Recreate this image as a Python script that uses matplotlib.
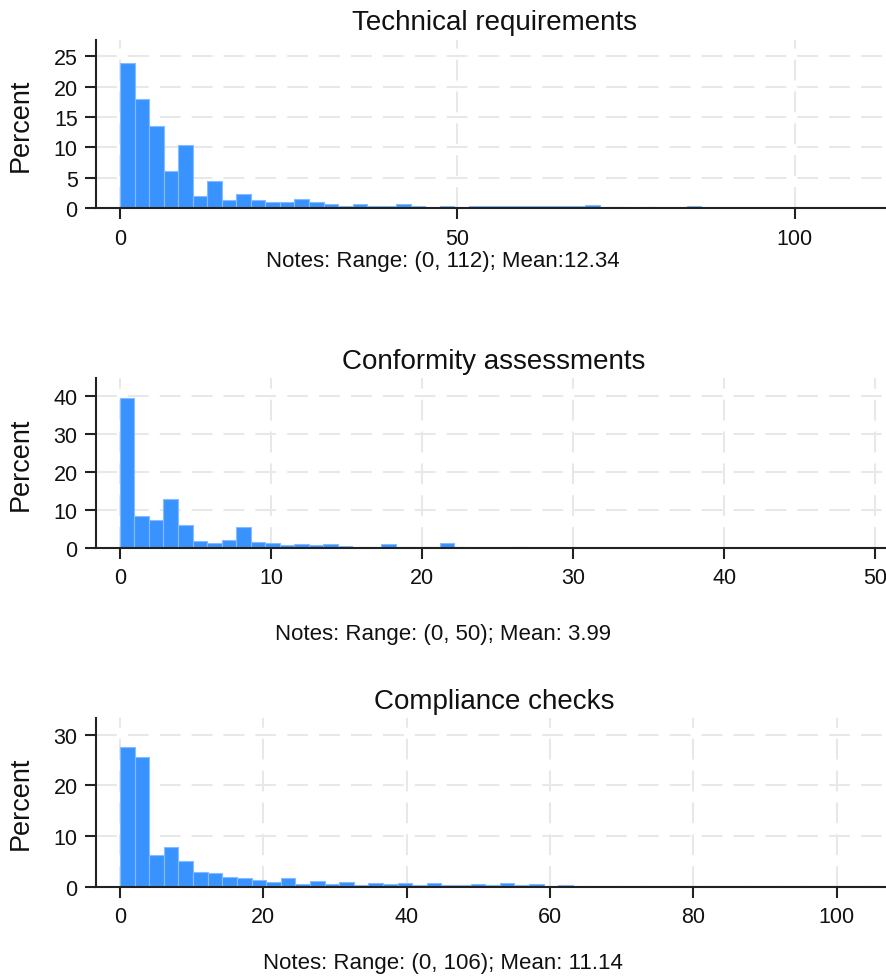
import numpy as np
import matplotlib
matplotlib.use("Agg")
import matplotlib.pyplot as plt

plt.rcParams['font.family'] = ['Liberation Sans', 'DejaVu Sans']

# ---------------- data (percent per bin, 52 equal-width bins) ----------------
titles = ["Technical requirements", "Conformity assessments", "Compliance checks"]
notes = ["Notes: Range: (0, 112); Mean:12.34",
         "Notes: Range: (0, 50); Mean: 3.99",
         "Notes: Range: (0, 106); Mean: 11.14"]
ranges_max = [112, 50, 106]

tech_pct = [23.8, 18.0, 13.5, 6.1, 10.4, 2.1, 4.5, 1.4, 2.3, 1.3,
            1.0, 1.0, 1.6, 1.0, 0.65, 0.3, 0.7, 0.3, 0.3, 0.7,
            0.35, 0.1, 0.33, 0.1, 0.33, 0.33, 0.45, 0.33, 0.33, 0.33,
            0.33, 0.33, 0.5, 0.2, 0.2, 0.05, 0.2, 0.1, 0.1, 0.33,
            0.05, 0.05, 0.05, 0.05, 0.05, 0.05, 0.05, 0.05, 0.05, 0.05,
            0.05, 0.05]
conf_pct = [39.4, 8.4, 7.3, 12.8, 6.0, 1.9, 1.4, 2.0, 5.6, 1.5,
            1.2, 0.9, 1.1, 0.8, 1.05, 0.5, 0.35, 0.3, 1.0, 0.2,
            0.2, 0.2, 1.4, 0.15, 0.1, 0.1, 0.1, 0.35, 0.1, 0.1,
            0.1, 0.05, 0.05, 0.05, 0.05, 0.05, 0.05, 0.05, 0.05, 0.05,
            0.05, 0.05, 0.05, 0.05, 0.05, 0.05, 0.05, 0.1, 0.0, 0.1,
            0.0, 0.1]
comp_pct = [27.5, 25.7, 6.3, 7.9, 5.1, 3.0, 2.8, 1.85, 1.7, 1.25,
            0.9, 1.7, 0.6, 1.05, 0.45, 0.9, 0.25, 0.65, 0.45, 0.65,
            0.25, 0.65, 0.4, 0.4, 0.45, 0.4, 0.65, 0.25, 0.45, 0.2,
            0.25, 0.05, 0.05, 0.05, 0.05, 0.05, 0.05, 0.05, 0.05, 0.05,
            0.05, 0.05, 0.05, 0.05, 0.05, 0.05, 0.05, 0.05, 0.05, 0.05,
            0.05, 0.05]
series = [tech_pct, conf_pct, comp_pct]

x_ticks = [[0, 50, 100], [0, 10, 20, 30, 40, 50], [0, 20, 40, 60, 80, 100]]
y_ticks = [[0, 5, 10, 15, 20, 25], [0, 10, 20, 30, 40], [0, 10, 20, 30]]
x_lims = [(-3.6, 113.5), (-1.6, 50.7), (-3.4, 106.9)]
y_maxs = [27.7, 44.6, 33.3]

# ---------------- layout (pixels) ----------------
W, H = 886, 978
fig = plt.figure(figsize=(W / 100, H / 100), dpi=100)

ax_boxes = [(40.7, 209.3), (379.3, 549.0), (719.0, 887.7)]  # top, bottom in px
left_px, right_px = 95.7, 886
title_base = [29.5, 369, 709]
note_base = [267, 640, 969]

bar_color = '#3993ff'
edge_color = '#86bbff'
grid_color = '#e8e8e8'
axis_color = '#222222'

for i in range(3):
    top, bot = ax_boxes[i]
    ax = fig.add_axes([left_px / W, 1 - bot / H, (right_px - left_px) / W, (bot - top) / H])
    vals = np.array(series[i])
    nb = len(vals)
    edges = np.linspace(0, ranges_max[i], nb + 1)
    width = edges[1] - edges[0]
    ax.bar(edges[:-1], vals, width=width, align='edge', color=bar_color,
           edgecolor=edge_color, linewidth=0.8, zorder=2)
    ax.set_xlim(*x_lims[i])
    ax.set_ylim(0, y_maxs[i])
    ax.set_xticks(x_ticks[i])
    ax.set_yticks(y_ticks[i])
    ax.grid(True, color=grid_color, linewidth=1.5, linestyle=(0, (10, 5.3)), zorder=0)
    ax.set_axisbelow(True)
    for s in ['top', 'right']:
        ax.spines[s].set_visible(False)
    for s in ['left', 'bottom']:
        ax.spines[s].set_color(axis_color)
        ax.spines[s].set_linewidth(1.5)
        ax.spines[s].set_zorder(3)
    ax.tick_params(axis='both', direction='out', length=8, width=1.5, color=axis_color,
                   labelsize=15.5, labelcolor='#111111')
    ax.tick_params(axis='x', pad=6)
    ax.tick_params(axis='y', pad=5)
    fig.text(21 / W, 1 - ((top + bot) / 2) / H, "Percent", rotation=90, ha='center',
             va='center', fontsize=19.5, color='#111111')
    fig.text(494 / W, 1 - title_base[i] / H, titles[i], ha='center', va='baseline',
             fontsize=20, color='#111111')
    fig.text(443 / W, 1 - note_base[i] / H, notes[i], ha='center', va='baseline',
             fontsize=16, color='#111111')

fig.savefig("out.png", dpi=100, facecolor='white')
